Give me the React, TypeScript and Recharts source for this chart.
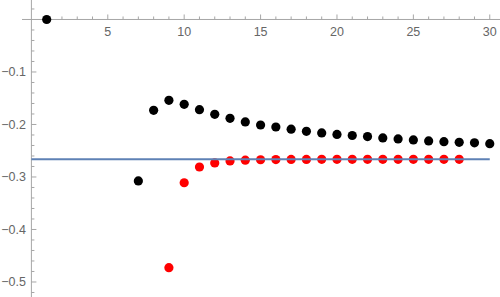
import React from 'react';
import { ScatterChart, Scatter, XAxis, YAxis } from 'recharts';

// ---- data ----
const blackX = [1, 7, 8, 9, 10, 11, 12, 13, 14, 15, 16, 17, 18, 19, 20, 21, 22, 23, 24, 25, 26, 27, 28, 29, 30];
const blackY = [0, -0.3076, -0.173, -0.154, -0.1616, -0.1718, -0.1806, -0.1882, -0.1952, -0.201, -0.2048, -0.209, -0.213, -0.216, -0.219, -0.221, -0.223, -0.2257, -0.2276, -0.2295, -0.2314, -0.2327, -0.234, -0.235, -0.2365];
const redX = [9, 10, 11, 12, 13, 14, 15, 16, 17, 18, 19, 20, 21, 22, 23, 24, 25, 26, 27, 28];
const redY = [-0.4727, -0.311, -0.281, -0.2733, -0.2695, -0.268, -0.2672, -0.2668, -0.2666, -0.2665, -0.2664, -0.2664, -0.2663, -0.2663, -0.2663, -0.2663, -0.2663, -0.2663, -0.2663, -0.2663];
const limitValue = -0.2663;
const limitXRange = [0, 30];

// ---- axes / ticks ----
const xDomain = [-2.055, 30.67];
const yDomain = [-0.5286, 0.0371];
const xAxisExtent = [-0.615, 30.67];
const xMajorTicks = [5, 10, 15, 20, 25, 30];
const xMajorLabels = ['5', '10', '15', '20', '25', '30'];
const xMinorTicks = [1, 2, 3, 4, 6, 7, 8, 9, 11, 12, 13, 14, 16, 17, 18, 19, 21, 22, 23, 24, 26, 27, 28, 29];
const yMajorTicks = [-0.1, -0.2, -0.3, -0.4, -0.5];
const yMajorLabels = ['\u22120.1', '\u22120.2', '\u22120.3', '\u22120.4', '\u22120.5'];
const yMinorTicks = [0.02, -0.02, -0.04, -0.06, -0.08, -0.12, -0.14, -0.16, -0.18, -0.22, -0.24, -0.26, -0.28, -0.32, -0.34, -0.36, -0.38, -0.42, -0.44, -0.46, -0.48, -0.52];

const AXIS_COLOR = '#a6a6a6';
const LABEL_COLOR = '#666666';
const FONT = '"Liberation Sans", Arial, sans-serif';

const blackData = blackX.map((x, i) => ({ x, y: blackY[i] }));
const redData = redX.map((x, i) => ({ x, y: redY[i] }));
const limitData = limitXRange.map((x) => ({ x, y: limitValue }));
const xAxisLine = xAxisExtent.map((x) => ({ x, y: 0 }));
const yAxisLine = yDomain.map((y) => ({ x: 0, y }));
const xTickData = [
  ...xMajorTicks.map((x, i) => ({ x, y: 0, label: xMajorLabels[i] })),
  ...xMinorTicks.map((x) => ({ x, y: 0, label: null })),
];
const yTickData = [
  ...yMajorTicks.map((y, i) => ({ x: 0, y, label: yMajorLabels[i] })),
  ...yMinorTicks.map((y) => ({ x: 0, y, label: null })),
];

const Dot = (color: string) => (props: any) => (
  <circle cx={props.cx} cy={props.cy} r={4.6} fill={color} />
);

const Empty = () => <g />;

const XTick = (props: any) => {
  const { cx, cy, payload } = props;
  const major = payload.label != null;
  return (
    <g>
      <line x1={cx} y1={cy} x2={cx} y2={cy - (major ? 5 : 3)} stroke={AXIS_COLOR} strokeWidth={1} />
      {major && (
        <text x={cx} y={cy + 17} textAnchor="middle" fontSize={12.5} fill={LABEL_COLOR} fontFamily={FONT}>
          {payload.label}
        </text>
      )}
    </g>
  );
};

const YTick = (props: any) => {
  const { cx, cy, payload } = props;
  const major = payload.label != null;
  return (
    <g>
      <line x1={cx} y1={cy} x2={cx + (major ? 5 : 3)} y2={cy} stroke={AXIS_COLOR} strokeWidth={1} />
      {major && (
        <text x={cx - 5.5} y={cy} dy="0.36em" textAnchor="end" fontSize={12.5} fill={LABEL_COLOR} fontFamily={FONT}>
          {payload.label}
        </text>
      )}
    </g>
  );
};

export default function App() {
  return (
    <div style={{ position: 'absolute', left: 0, top: 0, width: 500, height: 297, background: '#fff' }}>
      <ScatterChart width={500} height={297} margin={{ top: 0, right: 0, bottom: 0, left: 0 }}>
        <XAxis type="number" dataKey="x" domain={xDomain} allowDataOverflow hide />
        <YAxis type="number" dataKey="y" domain={yDomain} allowDataOverflow hide />
        <Scatter data={xAxisLine} line={{ stroke: AXIS_COLOR, strokeWidth: 1 }} shape={Empty} isAnimationActive={false} />
        <Scatter data={yAxisLine} line={{ stroke: AXIS_COLOR, strokeWidth: 1 }} shape={Empty} isAnimationActive={false} />
        <Scatter data={xTickData} shape={XTick} isAnimationActive={false} />
        <Scatter data={yTickData} shape={YTick} isAnimationActive={false} />
        <Scatter data={blackData} shape={Dot('#000000')} isAnimationActive={false} />
        <Scatter data={redData} shape={Dot('#ff0000')} isAnimationActive={false} />
        <Scatter data={limitData} line={{ stroke: '#5e81b5', strokeWidth: 2 }} shape={Empty} isAnimationActive={false} />
      </ScatterChart>
    </div>
  );
}
